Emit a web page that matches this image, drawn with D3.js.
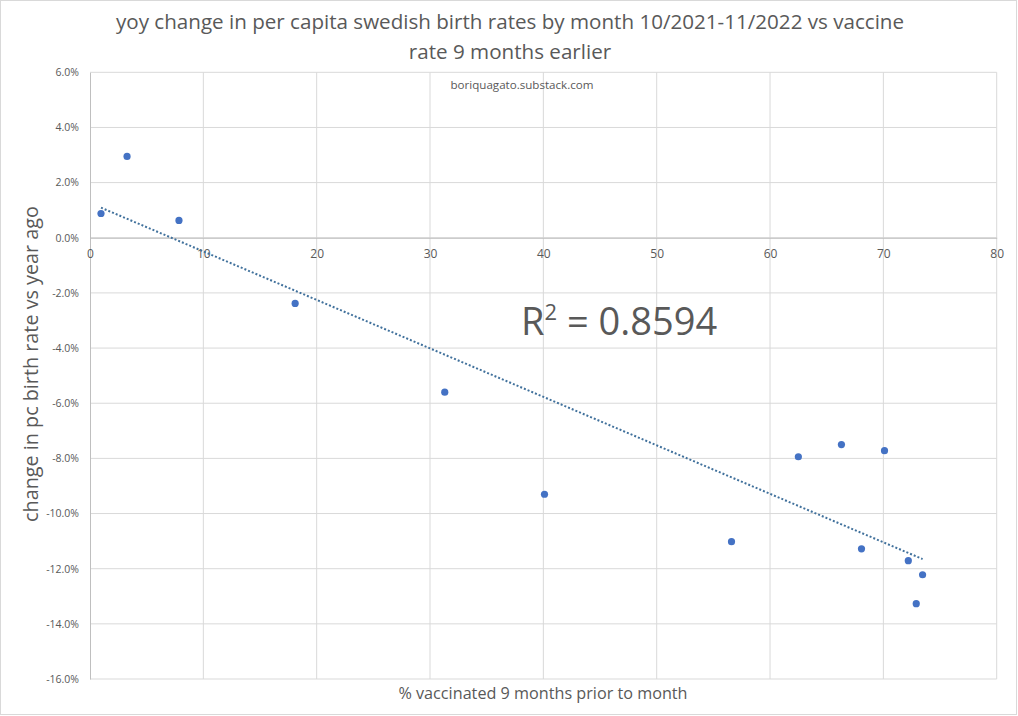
<!DOCTYPE html>
<html><head><meta charset="utf-8">
<script src="https://cdn.jsdelivr.net/npm/d3@7"></script>
<style>body{margin:0;background:#fff}svg{display:block}</style>
</head><body>
<svg id="c" width="1018" height="716"></svg>
<script>
const vaccinated = [0.97, 3.27, 7.85, 18.1, 31.3, 40.1, 56.6, 62.5, 66.3, 70.1, 68.07, 72.2, 73.46, 72.9];
const birthChange = [0.88, 2.95, 0.63, -2.38, -5.6, -9.3, -11.02, -7.94, -7.5, -7.72, -11.28, -11.71, -12.22, -13.27];
const xTicks = [0, 10, 20, 30, 40, 50, 60, 70, 80];
const yTicks = [6, 4, 2, 0, -2, -4, -6, -8, -10, -12, -14, -16];
const titleLines = ["yoy change in per capita swedish birth rates by month 10/2021-11/2022 vs vaccine", "rate 9 months earlier"];
const r2Label = "0.8594";

const svg = d3.select("#c");
const font = "'Open Sans', sans-serif";
const txt = "#595959";
const x = d3.scaleLinear().domain([0, 80]).range([90, 996.7]);
const y = d3.scaleLinear().domain([-16, 6]).range([679, 72.3]);

svg.append("rect").attr("x", 0.5).attr("y", 0.5).attr("width", 1016).attr("height", 714)
  .attr("fill", "#fff").attr("stroke", "#d9d9d9");

// gridlines
svg.append("g").selectAll("line").data(yTicks).join("line")
  .attr("x1", x(0)).attr("x2", x(80)).attr("y1", d => y(d)).attr("y2", d => y(d))
  .attr("stroke", "#d9d9d9").attr("stroke-width", 1);
svg.append("g").selectAll("line").data(xTicks.filter(d => d > 0)).join("line")
  .attr("x1", d => x(d)).attr("x2", d => x(d)).attr("y1", y(6)).attr("y2", y(-16))
  .attr("stroke", "#d9d9d9").attr("stroke-width", 1);

// axes
const yAxis = d3.axisLeft(y).tickValues(yTicks).tickSize(0).tickPadding(11).tickFormat(d => d.toFixed(1) + "%");
const gy = svg.append("g").attr("transform", `translate(${x(0)},0)`).call(yAxis);
gy.select(".domain").attr("stroke", "#bfbfbf");
gy.selectAll("text").attr("fill", txt).attr("font-family", font).attr("font-size", 10.5);

const xAxis = d3.axisBottom(x).tickValues(xTicks).tickSize(0).tickPadding(12).tickFormat(d3.format("d"));
const gx = svg.append("g").attr("transform", `translate(0,${y(0)})`).call(xAxis);
gx.select(".domain").attr("stroke", "#bfbfbf");
gx.selectAll("text").attr("fill", txt).attr("font-family", font).attr("font-size", 12);

// trendline (least squares)
const n = vaccinated.length;
const mx = d3.mean(vaccinated), my = d3.mean(birthChange);
let sxy = 0, sxx = 0;
for (let i = 0; i < n; i++) { sxy += (vaccinated[i]-mx)*(birthChange[i]-my); sxx += (vaccinated[i]-mx)**2; }
const slope = sxy / sxx, icpt = my - slope * mx;
const [xmin, xmax] = d3.extent(vaccinated);
svg.append("line").attr("x1", x(xmin)).attr("y1", y(icpt + slope*xmin))
  .attr("x2", x(xmax)).attr("y2", y(icpt + slope*xmax))
  .attr("stroke", "#41719c").attr("stroke-width", 2).attr("stroke-dasharray", "2,2");

// points
svg.append("g").selectAll("circle").data(d3.range(n)).join("circle")
  .attr("cx", i => x(vaccinated[i])).attr("cy", i => y(birthChange[i])).attr("r", 3.6)
  .attr("fill", "#4472c4");

// title
svg.append("g").selectAll("text").data(titleLines).join("text")
  .attr("x", 510).attr("y", (d, i) => 29 + i * 30).attr("text-anchor", "middle")
  .attr("font-family", font).attr("font-size", 20.6).attr("fill", txt).text(d => d);

svg.append("text").attr("x", 522).attr("y", 89).attr("text-anchor", "middle")
  .attr("font-family", font).attr("font-size", 11.6).attr("fill", txt).text("boriquagato.substack.com");

// R2 label
const r2 = svg.append("text").attr("x", 521).attr("y", 335).attr("font-family", font)
  .attr("font-size", 38).attr("fill", txt);
r2.append("tspan").text("R");
r2.append("tspan").attr("font-size", 22).attr("dy", -15).text("2");
r2.append("tspan").attr("dy", 15).text(" = " + r2Label);

// axis titles
svg.append("text").attr("x", 543).attr("y", 699).attr("text-anchor", "middle")
  .attr("font-family", font).attr("font-size", 16.2).attr("fill", txt).text("% vaccinated 9 months prior to month");
svg.append("text").attr("transform", "translate(38,364) rotate(-90)").attr("text-anchor", "middle")
  .attr("font-family", font).attr("font-size", 19.8).attr("fill", txt).text("change in pc birth rate vs year ago");
</script>
</body></html>
